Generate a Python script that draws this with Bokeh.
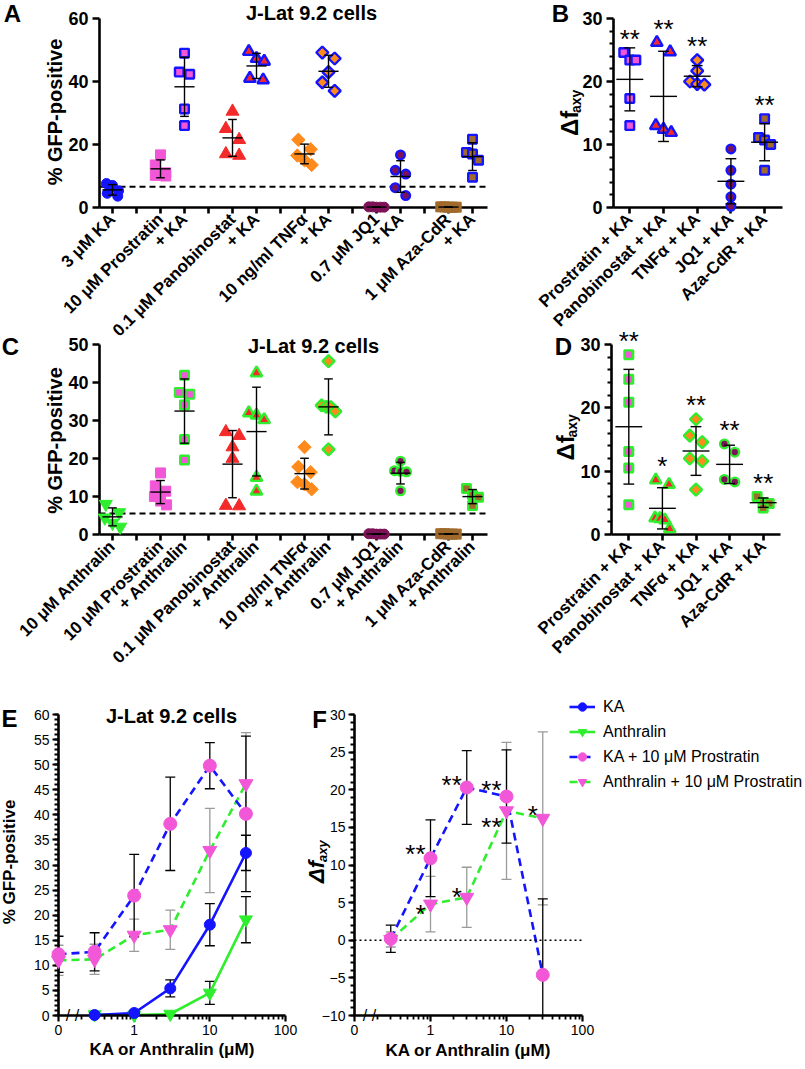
import math
import numpy as np
from bokeh.plotting import figure
from bokeh.models import FixedTicker, Span, Legend, LegendItem, Spacer
from bokeh.core.properties import value
from bokeh.layouts import row, column
from bokeh.embed import file_html
from bokeh.resources import INLINE

FONT = "Liberation Sans"
BLUE = "#1414FF"
PINK = "#F257D8"
RED = "#F42A2A"
ORANGE = "#FF8A1C"
MAROON = "#7E1257"
BROWN = "#A06A2C"
GREEN = "#2EEE2E"
GRAY = "#9A9A9A"

# ---------------- Panel A : % GFP-positive, KA combinations ----------------
a_labels = ["3 μM KA", "", "10 μM Prostratin", "+ KA", "", "0.1 μM Panobinostat", "+ KA", "",
            "10 ng/ml TNFα", "+ KA", "", "0.7 μM JQ1", "+ KA", "", "1 μM Aza-CdR", "+ KA"]
a_ka = [7.6, 7.0, 5.3, 4.5, 3.6]
a_prostratin = [16.7, 13.5, 11.0, 10.2, 10.0]
a_prostratin_ka = [49.0, 43.0, 42.3, 31.3, 26.0]
a_panobinostat = [30.5, 25.0, 21.5, 17.0, 16.5]
a_panobinostat_ka = [49.5, 47.3, 46.4, 41.0, 40.5]
a_tnf = [21.5, 18.5, 16.5, 15.0, 13.5]
a_tnf_ka = [49.2, 47.3, 43.0, 39.7, 37.0]
a_jq1 = [0.2, 0.1, 0.1, 0.2, 0.1]
a_jq1_ka = [16.7, 11.8, 10.6, 6.3, 3.8]
a_aza = [0.2, 0.1, 0.2, 0.1, 0.1]
a_aza_ka = [21.7, 17.5, 17.0, 15.0, 9.6]
a_cutoff = 6.6

# ---------------- Panel B : delta f_axy, KA combinations ----------------
b_labels = ["Prostratin + KA", "Panobinostat + KA", "TNFα + KA", "JQ1 + KA", "Aza-CdR + KA"]
b_prostratin = [24.6, 23.4, 23.4, 17.3, 13.0]
b_panobinostat = [26.2, 24.7, 13.0, 12.4, 11.9]
b_tnf = [23.4, 21.7, 20.0, 19.6, 19.5]
b_jq1 = [9.3, 5.9, 3.7, 1.7, 0.2]
b_aza = [14.1, 11.1, 10.7, 10.0, 5.9]
b_stars = ["**", "**", "**", "", "**"]

# ---------------- Panel C : % GFP-positive, Anthralin combinations ----------------
c_labels = ["10 μM Anthralin", "", "10 μM Prostratin", "+ Anthralin", "", "0.1 μM Panobinostat",
            "+ Anthralin", "", "10 ng/ml TNFα", "+ Anthralin", "", "0.7 μM JQ1", "+ Anthralin", "",
            "1 μM Aza-CdR", "+ Anthralin"]
c_anthralin = [8.0, 5.8, 4.4, 3.0, 2.0]
c_prostratin = [16.2, 12.8, 11.4, 10.0, 8.8, 7.8]
c_prostratin_anth = [41.9, 37.4, 36.9, 34.1, 25.0, 19.6]
c_panobinostat = [27.0, 26.0, 23.0, 20.0, 7.6, 7.5]
c_panobinostat_anth = [42.5, 32.0, 31.4, 30.2, 15.0, 11.4]
c_tnf = [23.0, 17.8, 16.4, 13.8, 13.2, 11.9]
c_tnf_anth = [45.6, 34.0, 33.6, 33.5, 32.4, 22.4]
c_jq1 = [0.1, 0.2, 0.1, 0.1, 0.2]
c_jq1_anth = [19.3, 16.8, 16.6, 16.5, 11.5]
c_aza = [0.2, 0.1, 0.1, 0.2, 0.1]
c_aza_anth = [12.1, 10.4, 9.8, 7.6]
c_cutoff = 5.5

# ---------------- Panel D : delta f_axy, Anthralin combinations ----------------
d_labels = ["Prostratin + KA", "Panobinostat + KA", "TNFα + KA", "JQ1 + KA", "Aza-CdR + KA"]
d_prostratin = [28.4, 24.5, 20.9, 13.1, 10.5, 4.7]
d_panobinostat = [8.6, 7.9, 2.6, 2.5, 2.3, 0.9]
d_tnf = [18.2, 15.6, 14.6, 12.0, 11.6, 7.1]
d_jq1 = [14.3, 13.0, 8.7, 8.3]
d_aza = [6.0, 5.0, 4.9, 4.2]
d_stars = ["**", "*", "**", "**", "**"]

# ---------------- Panel E : dose response ----------------
e_conc_single = [0.3, 1, 3, 10, 30]
e_ka_mean = [0.1, 0.5, 5.4, 18.1, 32.4]
e_ka_sd = [0.2, 0.3, 1.7, 4.2, 3.5]
e_anth_mean = [0.2, 0.1, 0.3, 4.5, 19.1]
e_anth_sd = [0.1, 0.1, 0.3, 2.3, 4.6]
e_conc_combo = [0, 0.3, 1, 3, 10, 30]
e_kapro_mean = [12.2, 12.7, 23.9, 38.2, 49.8, 40.2]
e_kapro_sd = [3.6, 3.8, 8.2, 9.3, 4.6, 15.5]
e_anthpro_mean = [11.0, 11.2, 16.0, 17.1, 32.9, 46.2]
e_anthpro_sd = [3.0, 3.0, 3.2, 3.9, 8.4, 10.2]

# ---------------- Panel F : delta f_axy dose response ----------------
f_conc = [0.3, 1, 3, 10, 30]
f_kapro = [0.2, 10.9, 20.3, 19.1, -4.6]
f_kapro_sd = [1.8, 5.1, 4.9, 6.2, 10.1]
f_kapro_stars = ["", "**", "**", "**", ""]
f_anthpro = [0.1, 4.8, 5.7, 17.2, 16.2]
f_anthpro_sd = [1.0, 3.7, 4.0, 9.1, 11.5]
f_anthpro_stars = ["", "*", "*", "**", "*"]

legend_labels = ["KA", "Anthralin", "KA + 10 μM Prostratin", "Anthralin + 10 μM Prostratin"]

# ---------------- styling helpers ----------------
AGENT = {"KA": ("circle", BLUE), "Prostratin": ("square", PINK), "Panobinostat": ("triangle", RED),
         "TNF": ("diamond", ORANGE), "JQ1": ("circle", MAROON), "Aza": ("square", BROWN),
         "Anthralin": ("inverted_triangle", GREEN)}
VSIZE = {"circle": 11, "square": 11, "triangle": 14, "diamond": 13, "inverted_triangle": 14}
STAR_SIZE = 26
STAR_LIFT = 6  # px between text middle and asterisk centre


class Geo:
    def __init__(self, ox, oy, w, h, bl, bt, br, bb, xr, yr, xlog=False):
        self.w, self.h, self.bl, self.bt, self.br, self.bb = w, h, bl, bt, br, bb
        self.fl, self.ft = ox + bl, oy + bt
        self.fw, self.fh = w - bl - br, h - bt - bb
        self.xr, self.yr, self.xlog = xr, yr, xlog
        if xlog:
            self.px_x = self.fw / (math.log10(xr[1]) - math.log10(xr[0]))
        else:
            self.px_x = self.fw / (xr[1] - xr[0])
        self.px_y = self.fh / (yr[1] - yr[0])

    def x(self, X):
        t = (X - self.fl) / self.fw
        if self.xlog:
            a, b = math.log10(self.xr[0]), math.log10(self.xr[1])
            return 10 ** (a + t * (b - a))
        return self.xr[0] + t * (self.xr[1] - self.xr[0])

    def y(self, Y):
        t = (Y - self.ft) / self.fh
        return self.yr[1] - t * (self.yr[1] - self.yr[0])


def clear_fig(p):
    p.xgrid.visible = False
    p.ygrid.visible = False
    p.outline_line_color = None
    p.background_fill_color = None
    p.border_fill_color = None


def base_fig(g):
    p = figure(width=g.w, height=g.h, x_range=g.xr, y_range=g.yr,
               x_axis_type="log" if g.xlog else "linear", title=None,
               output_backend="svg", toolbar_location=None,
               min_border_left=g.bl, min_border_top=g.bt,
               min_border_right=g.br, min_border_bottom=g.bb)
    clear_fig(p)
    return p


def txt_data(p, x, y, text, size, style="normal", angle=0.0, align="center", baseline="middle"):
    p.text(x=[x], y=[y], text=[text], angle=angle,
           text_font=value(FONT), text_font_size=value(f"{size}px"),
           text_font_style=value(style), text_align=value(align),
           text_baseline=value(baseline), text_color="black", level="overlay")


def txt(p, g, X, Y, text, size, style="bold", angle=0.0, align="center", baseline="middle"):
    txt_data(p, g.x(X), g.y(Y), text, size, style, angle, align, baseline)


def swarm(vals, px_x, px_y, size):
    v = np.asarray(vals, float)
    order = np.argsort(-v, kind="stable")
    rows = []
    for i in order:
        if rows and (v[rows[-1][0]] - v[i]) * px_y < 0.8 * size:
            rows[-1].append(i)
        else:
            rows.append([i])
    off = np.zeros(len(v))
    for r in rows:
        n = len(r)
        step = size * (0.95 if n <= 2 else 0.55 if n == 3 else 0.35)
        for k, i in enumerate(r):
            off[i] = (k - (n - 1) / 2) * step / px_x
    return off


def draw_group(p, g, xc, vals, agent, outline, mean_w, cap_w):
    marker, fill = AGENT[agent]
    vs = VSIZE[marker]
    xs = xc + swarm(vals, g.px_x, g.px_y, vs)
    lw = 2.4 if outline else 1.0
    size = vs - lw
    kw = dict(fill_color=fill, line_color=outline if outline else fill, line_width=lw, level="overlay")
    if marker == "diamond":
        p.scatter(xs, vals, marker="square", angle=math.pi / 4, size=size / 1.414 + 1, **kw)
    else:
        p.scatter(xs, vals, marker=marker, size=size, **kw)
    m = float(np.mean(vals))
    sd = float(np.std(vals, ddof=1))
    p.segment(x0=[xc - mean_w, xc, xc - cap_w, xc - cap_w],
              y0=[m, m - sd, m + sd, m - sd],
              x1=[xc + mean_w, xc, xc + cap_w, xc + cap_w],
              y1=[m, m + sd, m + sd, m - sd], line_color="black", line_width=1.4, level="overlay")


def dot_axes(p, labels, yticks, yminor):
    xa = p.xaxis[0]
    xa.ticker = FixedTicker(ticks=list(range(1, len(labels) + 1)), minor_ticks=[])
    xa.major_label_overrides = {i + 1: l for i, l in enumerate(labels)}
    xa.major_label_orientation = math.pi / 4
    ya = p.yaxis[0]
    ya.ticker = FixedTicker(ticks=yticks, minor_ticks=yminor)
    for ax in (xa, ya):
        ax.axis_line_width = 2.6
        ax.axis_line_color = "black"
        ax.major_tick_line_width = 2.6
        ax.major_tick_line_color = "black"
        ax.minor_tick_line_width = 2.2
        ax.minor_tick_line_color = "black"
        ax.major_tick_in = 0
        ax.minor_tick_in = 0
        ax.major_label_text_font = FONT
        ax.major_label_text_font_style = "bold"
        ax.major_label_text_color = "black"
    xa.major_tick_out = 6
    xa.major_label_text_font_size = "17px"
    xa.major_label_standoff = 3
    ya.major_tick_out = 7
    ya.minor_tick_out = 4
    ya.major_label_text_font_size = "18px"
    ya.major_label_standoff = 4


def dot_panel(g, labels, values, styles, yticks, yminor, mean_w, cap_w):
    p = base_fig(g)
    slots = [i + 1 for i, l in enumerate(labels) if l]
    for xc, vals, (agent, outline) in zip(slots, values, styles):
        draw_group(p, g, xc, vals, agent, outline, mean_w, cap_w)
    dot_axes(p, labels, yticks, yminor)
    return p, slots


def stars_over(p, g, slots, values, stars):
    for xc, vals, s in zip(slots, values, stars):
        if s:
            txt_data(p, xc, max(vals) + (20 - STAR_LIFT) / g.px_y, s, STAR_SIZE)


# ---------------- A ----------------
gA = Geo(0, 0, 500, 355, 99, 18, 13, 147, (0.4583, 16.625), (0, 60))
a_values = [a_ka, a_prostratin, a_prostratin_ka, a_panobinostat, a_panobinostat_ka, a_tnf, a_tnf_ka,
            a_jq1, a_jq1_ka, a_aza, a_aza_ka]
a_styles = [("KA", None), ("Prostratin", None), ("Prostratin", BLUE), ("Panobinostat", None),
            ("Panobinostat", BLUE), ("TNF", None), ("TNF", BLUE), ("JQ1", None), ("JQ1", BLUE),
            ("Aza", None), ("Aza", BLUE)]
pA, _ = dot_panel(gA, a_labels, a_values, a_styles, [0, 20, 40, 60], [], 0.42, 0.18)
pA.add_layout(Span(location=a_cutoff, dimension="width", line_dash="6 4", line_width=2, line_color="black"))
txt(pA, gA, 12, 13, "A", 24)
txt(pA, gA, 311, 12, "J-Lat 9.2 cells", 20)
txt(pA, gA, 54, 112, "% GFP-positive", 20, angle=math.pi / 2)

# ---------------- B ----------------
gB = Geo(500, 0, 305, 355, 113, 17, 23, 148, (0.516, 5.531), (0, 30))
b_values = [b_prostratin, b_panobinostat, b_tnf, b_jq1, b_aza]
b_styles = [("Prostratin", BLUE), ("Panobinostat", BLUE), ("TNF", BLUE), ("JQ1", BLUE), ("Aza", BLUE)]
pB, b_slots = dot_panel(gB, b_labels, b_values, b_styles, [0, 10, 20, 30],
                        [v for v in range(2, 30, 2) if v % 10], 0.4, 0.16)
stars_over(pB, gB, b_slots, b_values, b_stars)
txt(pB, gB, 560, 12, "B", 24)
txt(pB, gB, 569, 135, "Δf", 24, angle=math.pi / 2, align="left")
txt(pB, gB, 575, 112, "axy", 14, angle=math.pi / 2, align="left")

# ---------------- C ----------------
gC = Geo(0, 325, 500, 365, 99, 19, 13, 156, (0.4583, 16.625), (0, 50))
c_values = [c_anthralin, c_prostratin, c_prostratin_anth, c_panobinostat, c_panobinostat_anth, c_tnf,
            c_tnf_anth, c_jq1, c_jq1_anth, c_aza, c_aza_anth]
c_styles = [("Anthralin", None), ("Prostratin", None), ("Prostratin", GREEN), ("Panobinostat", None),
            ("Panobinostat", GREEN), ("TNF", None), ("TNF", GREEN), ("JQ1", None), ("JQ1", GREEN),
            ("Aza", None), ("Aza", GREEN)]
pC, _ = dot_panel(gC, c_labels, c_values, c_styles, [0, 10, 20, 30, 40, 50], [], 0.42, 0.18)
pC.add_layout(Span(location=c_cutoff, dimension="width", line_dash="6 4", line_width=2, line_color="black"))
txt(pC, gC, 10, 346, "C", 24)
txt(pC, gC, 313, 345, "J-Lat 9.2 cells", 20)
txt(pC, gC, 54, 440, "% GFP-positive", 20, angle=math.pi / 2)

# ---------------- D ----------------
gD = Geo(500, 325, 305, 365, 111, 19, 25, 156, (0.485, 5.515), (0, 30))
d_values = [d_prostratin, d_panobinostat, d_tnf, d_jq1, d_aza]
d_styles = [("Prostratin", GREEN), ("Panobinostat", GREEN), ("TNF", GREEN), ("JQ1", GREEN), ("Aza", GREEN)]
pD, d_slots = dot_panel(gD, d_labels, d_values, d_styles, [0, 10, 20, 30],
                        [v for v in range(2, 30, 2) if v % 10], 0.4, 0.16)
stars_over(pD, gD, d_slots, d_values, d_stars)
txt(pD, gD, 563, 346, "D", 24)
txt(pD, gD, 565, 460, "Δf", 24, angle=math.pi / 2, align="left")
txt(pD, gD, 571, 437, "axy", 14, angle=math.pi / 2, align="left")


# ---------------- E / F helpers ----------------
def err_bars(p, g, x, m, sd, color):
    x = np.asarray(x, float)
    m = np.asarray(m, float)
    sd = np.asarray(sd, float)
    cf = 10 ** (5 / g.px_x)
    p.segment(x, m - sd, x, m + sd, line_color=color, line_width=1.3)
    p.segment(x / cf, m + sd, x * cf, m + sd, line_color=color, line_width=1.3)
    p.segment(x / cf, m - sd, x * cf, m - sd, line_color=color, line_width=1.3)


def line_axes(p, yticks, yminor):
    xa = p.xaxis[0]
    xa.ticker = FixedTicker(ticks=[0.1, 1, 10, 100],
                            minor_ticks=[k / 10 for k in range(2, 10)] + list(range(2, 10)) +
                            list(range(20, 100, 10)))
    xa.major_label_overrides = {0.1: "0", 1: "1", 10: "10", 100: "100"}
    ya = p.yaxis[0]
    ya.ticker = FixedTicker(ticks=yticks, minor_ticks=yminor)
    for ax in (xa, ya):
        ax.axis_line_width = 2.6
        ax.axis_line_color = "black"
        ax.major_tick_line_width = 2.2
        ax.major_tick_line_color = "black"
        ax.minor_tick_line_width = 1.8
        ax.minor_tick_line_color = "black"
        ax.major_tick_in = 0
        ax.minor_tick_in = 0
        ax.major_tick_out = 6
        ax.minor_tick_out = 4
        ax.major_label_text_font = FONT
        ax.major_label_text_font_size = "14px"
        ax.major_label_text_color = "black"
        ax.major_label_standoff = 3


# ---------------- E ----------------
gE = Geo(0, 690, 298, 379, 58, 24, 13, 53, (0.1, 100), (0, 60), True)
pE = base_fig(gE)
xs = np.array(e_conc_single, float)
xc = np.array(e_conc_combo, float)
xc_plot = np.where(xc > 0, xc, 0.1)   # zero dose sits on the "0" position left of the axis break
err_bars(pE, gE, xc_plot, e_anthpro_mean, e_anthpro_sd, GRAY)
err_bars(pE, gE, xs, e_anth_mean, e_anth_sd, "black")
err_bars(pE, gE, xs, e_ka_mean, e_ka_sd, "black")
err_bars(pE, gE, xc_plot, e_kapro_mean, e_kapro_sd, "black")
pE.line(xs, e_anth_mean, line_color=GREEN, line_width=2.6)
pE.line(xs, e_ka_mean, line_color=BLUE, line_width=2.6)
pE.line(xc_plot, e_anthpro_mean, line_color=GREEN, line_width=2.6, line_dash="8 5")
pE.line(xc_plot, e_kapro_mean, line_color=BLUE, line_width=2.6, line_dash="8 5")
pE.scatter(xs, e_anth_mean, marker="inverted_triangle", size=13, color=GREEN, level="overlay")
pE.scatter(xs, e_ka_mean, marker="circle", size=11, color=BLUE, level="overlay")
pE.scatter(xc_plot, e_anthpro_mean, marker="inverted_triangle", size=14, color=PINK, level="overlay")
pE.scatter(xc_plot, e_kapro_mean, marker="circle", size=13, color=PINK, level="overlay")
line_axes(pE, list(range(0, 61, 5)), list(range(0, 61)))
txt(pE, gE, 72, 1016, "/ /", 16, style="normal")
txt(pE, gE, 9, 718, "E", 24)
txt(pE, gE, 171, 716, "J-Lat 9.2 cells", 20)
txt(pE, gE, 9, 862, "% GFP-positive", 17, angle=math.pi / 2)
txt(pE, gE, 172, 1050, "KA or Anthralin (μM)", 17)

# ---------------- F ----------------
gF = Geo(298, 690, 507, 379, 56, 23, 223, 54, (0.1, 100), (-10, 30), True)
pF = base_fig(gF)
fx = np.array(f_conc, float)
pF.add_layout(Span(location=0, dimension="width", line_dash="2 3", line_width=1.5, line_color="black"))
err_bars(pF, gF, fx, f_anthpro, f_anthpro_sd, GRAY)
err_bars(pF, gF, fx, f_kapro, f_kapro_sd, "black")
pF.line(fx, f_anthpro, line_color=GREEN, line_width=2.6, line_dash="8 5")
pF.line(fx, f_kapro, line_color=BLUE, line_width=2.6, line_dash="8 5")
pF.scatter(fx, f_anthpro, marker="inverted_triangle", size=14, color=PINK, level="overlay")
pF.scatter(fx, f_kapro, marker="circle", size=13, color=PINK, level="overlay")
line_axes(pF, list(range(-10, 31, 5)), list(range(-10, 31)))
star_cf = 10 ** (5 / gF.px_x)
ka_dy = [0, 10, 9, 13, 0]
an_dy = [0, -4, 6, -10, 9]
for x, m, s, dy in zip(f_conc, f_kapro, f_kapro_stars, ka_dy):
    if s:
        txt_data(pF, x / star_cf, m + (dy - STAR_LIFT) / gF.px_y, s, STAR_SIZE, align="right")
for x, m, s, dy in zip(f_conc, f_anthpro, f_anthpro_stars, an_dy):
    if s:
        txt_data(pF, x / star_cf, m + (dy - STAR_LIFT) / gF.px_y, s, STAR_SIZE, align="right")
txt(pF, gF, 369, 1015, "/ /", 16, style="normal")
txt(pF, gF, 319, 718, "F", 24)
txt(pF, gF, 316, 882, "Δf", 22, style="bold italic", angle=math.pi / 2, align="left")
txt(pF, gF, 322, 861, "axy", 13, style="bold italic", angle=math.pi / 2, align="left")
txt(pF, gF, 468, 1050, "KA or Anthralin (μM)", 17)

# ---------------- legend (own small canvas, top right of E/F) ----------------
pL = figure(width=239, height=110, x_range=(0, 1), y_range=(0, 1), title=None,
            output_backend="svg", toolbar_location=None,
            x_axis_location=None, y_axis_location=None,
            min_border_left=0, min_border_right=0, min_border_top=0, min_border_bottom=0)
clear_fig(pL)
leg_styles = [(BLUE, None, "circle", BLUE, 11), (GREEN, None, "inverted_triangle", GREEN, 13),
              (BLUE, "8 5", "circle", PINK, 13), (GREEN, "8 5", "inverted_triangle", PINK, 14)]
items = []
for lab, (lc, dash, mk, mc, ms) in zip(legend_labels, leg_styles):
    lkw = dict(line_color=lc, line_width=2.6)
    if dash:
        lkw["line_dash"] = dash
    # legend swatches only: a single undefined (NaN) point, nothing is drawn in the plot area
    lr = pL.line([np.nan], [np.nan], **lkw)
    sr = pL.scatter([np.nan], [np.nan], marker=mk, size=ms, color=mc)
    items.append(LegendItem(label=lab, renderers=[lr, sr]))
legend = Legend(items=items, location="top_left")
legend.label_text_font = FONT
legend.label_text_font_size = "16px"
legend.label_text_color = "black"
legend.glyph_width = 26
legend.glyph_height = 21
legend.spacing = 4
legend.padding = 3
legend.label_standoff = 8
legend.border_line_alpha = 0
legend.background_fill_alpha = 0
legend.margin = 0
pL.add_layout(legend)

layout = column(
    row(pA, pB),
    row(pC, pD, margin=(-30, 0, 0, 0)),
    row(Spacer(width=566, height=110), pL, margin=(3, 0, 0, 0)),
    row(pE, pF, margin=(-113, 0, 0, 0)),
)
open("out.html", "w").write(file_html(layout, INLINE))
